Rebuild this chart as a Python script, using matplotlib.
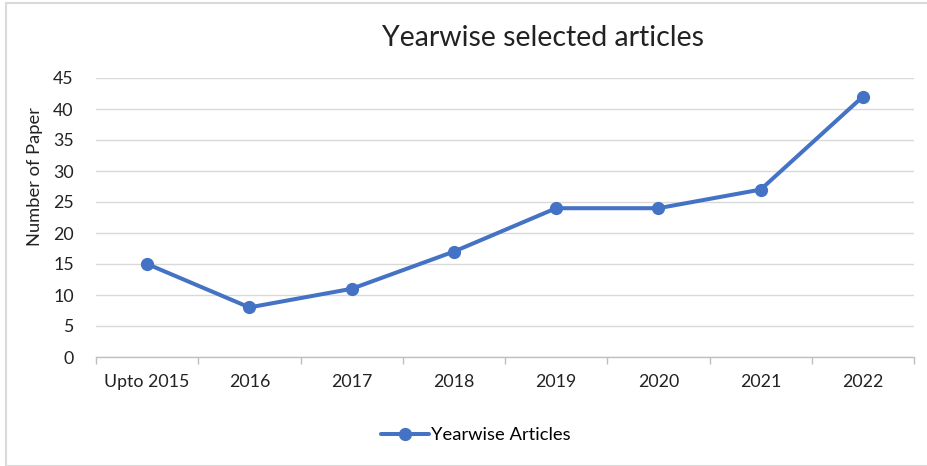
import matplotlib.pyplot as plt
from matplotlib.patches import Rectangle

plt.rcParams['font.family'] = ['Lato', 'DejaVu Sans']

# Chart data
years = ["Upto 2015", "2016", "2017", "2018", "2019", "2020", "2021", "2022"]
articles = [15, 8, 11, 17, 24, 24, 27, 42]
y_ticks = [0, 5, 10, 15, 20, 25, 30, 35, 40, 45]

fig = plt.figure(figsize=(9.27, 4.66), dpi=100)
ax = fig.add_axes([96 / 927, 1 - 357 / 466, 818 / 927, 279 / 466])

# outer chart border
fig.patches.append(Rectangle((6 / 927, 0), 1.0, 1 - 3 / 466, transform=fig.transFigure,
                             fill=False, edgecolor="#D9D9D9", linewidth=1.5))

x = list(range(len(years)))
line, = ax.plot(x, articles, color="#4472C4", linewidth=2.9, marker="o",
                markersize=8.5, label="Yearwise Articles", solid_capstyle="round")

ax.set_xlim(-0.5, len(years) - 0.5)
ax.set_ylim(0, 45)
ax.set_yticks(y_ticks)
ax.set_xticks(x)
ax.set_xticklabels(years)
ax.set_xticks([i - 0.5 for i in range(len(years) + 1)], minor=True)

ax.grid(axis="y", color="#D9D9D9", linewidth=1)
ax.set_axisbelow(True)
for side in ["top", "right", "left"]:
    ax.spines[side].set_visible(False)
ax.spines["bottom"].set_color("#BFBFBF")
ax.spines["bottom"].set_linewidth(1)

ax.tick_params(axis="x", which="major", length=0, pad=12, labelsize=12.8, colors="#222222")
ax.tick_params(axis="x", which="minor", length=5, color="#BFBFBF", width=1)
ax.tick_params(axis="y", length=0, pad=16, labelsize=12.8, colors="#222222")

fig.text(543 / 927, 1 - 38 / 466, "Yearwise selected articles", ha="center", va="center",
         fontsize=20.5, color="#222222")
fig.text(35 / 927, 1 - 177 / 466, "Number of Paper", rotation=90, ha="center", va="center",
         fontsize=13.2, color="#222222")

fig.legend(handles=[line], loc="center", bbox_to_anchor=(476 / 927, 1 - 435 / 466),
           frameon=False, fontsize=13.2, handlelength=2.6, handletextpad=0.1)

fig.savefig("out.png", dpi=100)
